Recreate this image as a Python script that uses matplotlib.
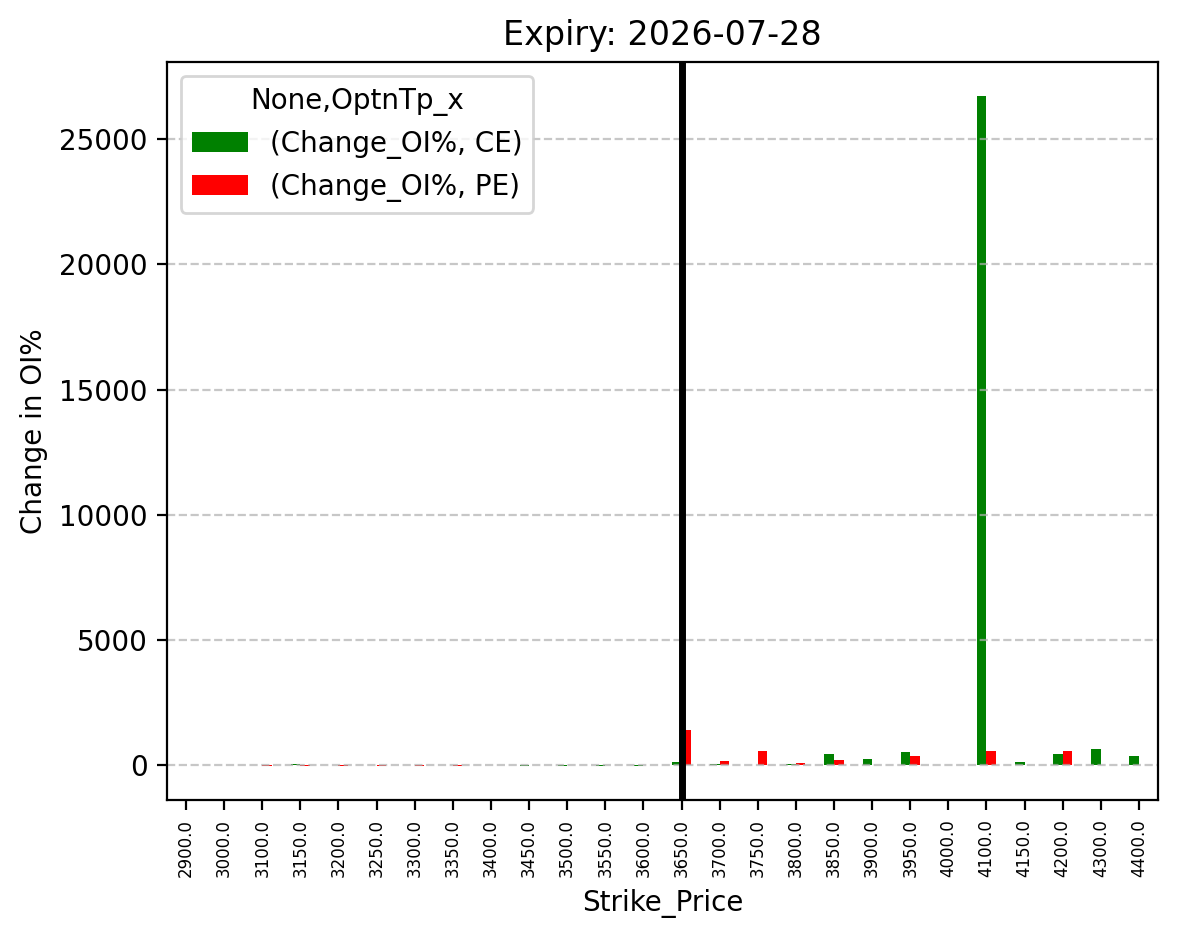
import matplotlib
matplotlib.use('Agg')
import matplotlib.pyplot as plt
import numpy as np

# Strike prices and change in OI% per option type
strikes = ['2900.0', '3000.0', '3100.0', '3150.0', '3200.0', '3250.0', '3300.0',
           '3350.0', '3400.0', '3450.0', '3500.0', '3550.0', '3600.0', '3650.0',
           '3700.0', '3750.0', '3800.0', '3850.0', '3900.0', '3950.0', '4000.0',
           '4100.0', '4150.0', '4200.0', '4300.0', '4400.0']
ce_change = [0, 0, 0, 60, 0, 20, 0, 20, 0, -20, -20, -20, -20, 135,
             55, 0, 55, 455, 255, 535, 15, 26730, 135, 455, 655, 375]
pe_change = [0, 0, -25, -35, -25, -20, -20, -40, 0, 0, 0, 30, 0, 1420,
             190, 575, 95, 215, 15, 375, 0, 575, 15, 575, 0, 0]
spot_index = 13  # 3650.0

fig = plt.figure(figsize=(5.895, 4.695), dpi=200)
ax = fig.add_axes([0.1416, 0.148, 0.9822 - 0.1416, 0.934 - 0.148])

x = np.arange(len(strikes))
w = 0.25
ax.bar(x - w / 2, ce_change, width=w, color='green', label='(Change_OI%, CE)')
ax.bar(x + w / 2, pe_change, width=w, color='red', label='(Change_OI%, PE)')

ax.axvline(x=spot_index, color='black', linewidth=2.5)

ax.set_xlim(-0.5, len(strikes) - 0.5)
ax.set_xticks(x)
ax.set_xticklabels(strikes, rotation=90, fontsize=6)
ax.set_xlabel('Strike_Price')
ax.set_ylabel('Change in OI%')
ax.set_title('Expiry: 2026-07-28')
ax.grid(axis='y', linestyle='--', alpha=0.7)
ax.legend(title='None,OptnTp_x', loc='upper left')

fig.savefig('out.png', dpi=200)
